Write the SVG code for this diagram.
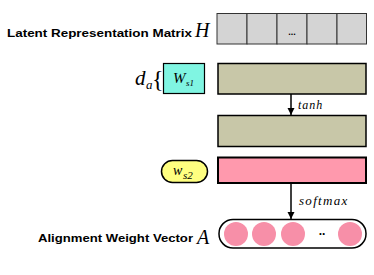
<svg xmlns="http://www.w3.org/2000/svg" width="374" height="275" viewBox="0 0 374 275">
<style>
.lbl{font-family:"Liberation Sans",Arial,sans-serif;font-weight:bold;font-size:11px;fill:#000}
.math{font-family:"Liberation Serif","Times New Roman",serif;font-style:italic;fill:#000}
.cell{fill:#d4d4d4;stroke:#333;stroke-width:1}
.khaki{fill:#c8c7a8;stroke:#000;stroke-width:1.5}
.conn{stroke:#000;stroke-width:1.5;fill:none}
</style>
<defs>
<marker id="ah" viewBox="0 0 10 10" refX="10" refY="5" markerWidth="5" markerHeight="5.5" orient="auto" markerUnits="strokeWidth">
<path d="M0,0 L10,5 L0,10 Z" fill="#000"/>
</marker>
</defs>
<rect width="374" height="275" fill="#fff"/>
<g id="matrixH">
<text class="lbl" x="7" y="37" textLength="185" lengthAdjust="spacingAndGlyphs">Latent Representation Matrix</text>
<text class="math" x="195" y="37" font-size="20">H</text>
<rect class="cell" x="217" y="13.5" width="30" height="30.5"/>
<rect class="cell" x="247" y="13.5" width="30" height="30.5"/>
<rect class="cell" x="277" y="13.5" width="30" height="30.5"/>
<rect class="cell" x="307" y="13.5" width="30" height="30.5"/>
<rect class="cell" x="337" y="13.5" width="29.5" height="30.5"/>
<text x="292" y="35" font-family="Liberation Sans,Arial,sans-serif" font-size="9" font-weight="bold" text-anchor="middle">...</text>
</g>
<g id="Ws1">
<text class="math" x="135" y="85" font-size="21">d</text>
<text class="math" x="146" y="89" font-size="13">a</text>
<text x="152" y="87" font-family="Liberation Serif,serif" font-size="24">{</text>
<rect x="163.5" y="63.5" width="41" height="30" fill="#80f5e2" stroke="#000" stroke-width="1.2"/>
<text class="math" x="173" y="83" font-size="15">W</text>
<text class="math" x="186" y="86" font-size="9">s1</text>
</g>
<g id="khaki1"><rect class="khaki" x="218" y="63.5" width="148" height="30.5"/></g>
<g id="khaki2"><rect class="khaki" x="218" y="115.5" width="148" height="31"/></g>
<g id="ws2">
<rect x="161.5" y="160.5" width="46" height="22" rx="11" fill="#ffff80" stroke="#000" stroke-width="1.5"/>
<text class="math" x="173" y="175" font-size="14">w</text>
<text class="math" x="183" y="179" font-size="11">s2</text>
</g>
<g id="pink"><rect x="218" y="157.5" width="148" height="25.5" fill="#ff99ad" stroke="#000" stroke-width="2"/></g>
<g id="vectorA">
<text class="lbl" x="38" y="242" textLength="155" lengthAdjust="spacingAndGlyphs">Alignment Weight Vector</text>
<text class="math" x="197" y="244" font-size="20">A</text>
<rect x="219" y="219.5" width="147" height="28.5" rx="14" fill="#fff" stroke="#000" stroke-width="1.5"/>
<circle cx="236" cy="234" r="12" fill="#f78fa8"/>
<circle cx="264" cy="234" r="12" fill="#f78fa8"/>
<circle cx="293" cy="234" r="12" fill="#f78fa8"/>
<circle cx="350" cy="234" r="12" fill="#f78fa8"/>
<text x="322" y="235" font-family="Liberation Sans,Arial,sans-serif" font-size="12" font-weight="bold" text-anchor="middle">..</text>
</g>
<g id="connectors">
<line class="conn" x1="291" y1="94" x2="291" y2="115" marker-end="url(#ah)"/>
<text class="math" x="298" y="109" font-size="12" letter-spacing="1">tanh</text>
<line class="conn" x1="291" y1="183" x2="291" y2="219" marker-end="url(#ah)"/>
<text class="math" x="299" y="205" font-size="13" letter-spacing="1.3">softmax</text>
</g>
</svg>
